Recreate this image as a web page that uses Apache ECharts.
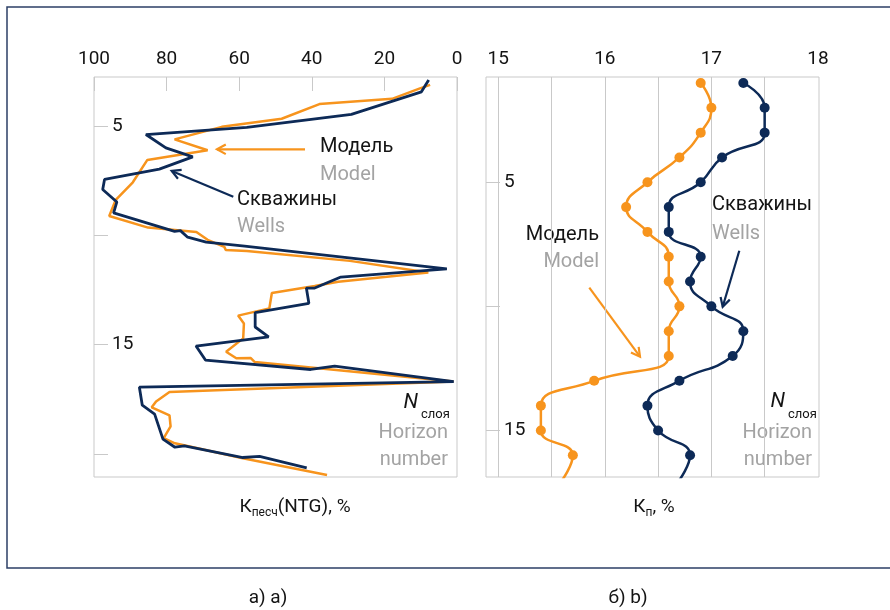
<!DOCTYPE html>
<html>
<head>
<meta charset="utf-8">
<script src="https://cdn.jsdelivr.net/npm/echarts@6/dist/echarts.min.js"></script>
<style>
  html, body { margin: 0; padding: 0; background: #ffffff; }
  #chart { width: 890px; height: 610px; }
</style>
</head>
<body>
<div id="chart"></div>
<script>
// ---- Net-to-gross profile (panel a): value in %, depth in horizon units ----
const ntgWellsValue = [7.8, 9.8, 29.1, 57.9, 85.7, 80.2, 72.8, 82.0, 97.1, 97.6, 93.7, 94.6, 77.8, 76.2, 74.2, 69.1, 58.5, 2.8, 32.0, 39.2, 41.5, 40.8, 55.6, 55.6, 51.9, 71.9, 69.3, 40.3, 33.7, 0.9, 87.5, 86.7, 83.3, 81.0, 77.7, 75.1, 59.0, 54.4, 41.4];
const ntgWellsDepth = [2.91, 3.45, 4.48, 5.07, 5.40, 6.01, 6.42, 6.98, 7.45, 7.91, 8.48, 8.98, 9.82, 9.79, 10.09, 10.31, 10.50, 11.54, 11.91, 12.41, 12.41, 13.11, 13.53, 14.19, 14.64, 15.06, 15.70, 16.13, 15.98, 16.68, 16.94, 17.76, 18.17, 19.31, 19.68, 19.62, 20.15, 20.10, 20.62];
const ntgModelValue = [7.4, 10.2, 17.9, 37.9, 48.3, 64.8, 77.8, 68.7, 85.3, 89.3, 94.0, 95.8, 85.1, 71.8, 68.7, 64.1, 63.7, 57.9, 29.5, 7.9, 32.7, 39.2, 51.0, 51.7, 60.3, 58.7, 58.9, 63.6, 60.8, 56.8, 55.7, 1.0, 79.2, 82.9, 84.1, 79.2, 78.9, 80.8, 77.7, 59.0, 35.8];
const ntgModelDepth = [3.13, 3.29, 3.77, 4.01, 4.68, 5.05, 5.62, 6.12, 6.56, 7.58, 8.38, 9.12, 9.65, 9.85, 10.21, 10.53, 10.67, 10.72, 11.17, 11.70, 12.12, 12.32, 12.64, 13.34, 13.67, 14.03, 14.71, 15.32, 15.62, 15.61, 15.79, 16.68, 17.16, 17.59, 17.86, 18.23, 18.73, 19.27, 19.50, 20.18, 20.95];

// ---- Porosity by horizon (panel b) ----
const horizons = [1, 2, 3, 4, 5, 6, 7, 8, 9, 10, 11, 12, 13, 14, 15, 16, 17];
const porosityModel = [16.9, 17.0, 16.9, 16.7, 16.4, 16.2, 16.4, 16.6, 16.6, 16.7, 16.6, 16.6, 15.9, 15.4, 15.4, 15.7, 15.6];
const porosityWells = [17.3, 17.5, 17.5, 17.1, 16.9, 16.6, 16.6, 16.9, 16.8, 17.0, 17.3, 17.2, 16.7, 16.4, 16.5, 16.8, 16.7];

// ---- Axis ticks ----
const ntgTicks = [0, 20, 40, 60, 80, 100];
const porosityLabels = [15, 16, 17, 18];
const porosityGrid = [15, 15.5, 16, 16.5, 17, 17.5];
const depthTicksA = [5, 10, 15, 20];
const depthLabelsA = [5, 15];
const depthTicksB = [5, 10, 15];
const depthLabelsB = [5, 15];

const ORANGE = '#f7941d';
const NAVY = '#0d2a57';
const GREY_TEXT = '#a3a3a3';
const GRID_GREY = '#c9c9c9';
const INK = '#141414';
const FONT = 'Roboto, "Noto Sans", sans-serif';

const zip = (xs, ys) => xs.map((x, i) => [x, ys[i]]);

const chart = echarts.init(document.getElementById('chart'), null, { renderer: 'canvas' });

// annotation arrow with an open V head at (x2, y2)
function arrow(x1, y1, x2, y2, color) {
  const a = Math.atan2(y2 - y1, x2 - x1);
  const len = 10, spread = 0.5;
  const p1 = [x2 - len * Math.cos(a - spread), y2 - len * Math.sin(a - spread)];
  const p2 = [x2 - len * Math.cos(a + spread), y2 - len * Math.sin(a + spread)];
  return {
    type: 'group',
    children: [
      { type: 'line', shape: { x1, y1, x2, y2 }, style: { stroke: color, lineWidth: 2.2 } },
      { type: 'polyline', shape: { points: [p1, [x2, y2], p2] }, style: { stroke: color, lineWidth: 2.2, fill: null } }
    ]
  };
}

function txt(text, x, y, size, color, align, extra) {
  return {
    type: 'text',
    style: Object.assign({
      text, x, y, fill: color, align: align || 'left', verticalAlign: 'middle',
      fontSize: size, fontFamily: FONT
    }, extra || {})
  };
}

const axisLabelBase = { color: INK, fontSize: 19, fontFamily: FONT };

const option = {
  animation: false,
  backgroundColor: '#ffffff',
  grid: [
    { left: 94, top: 77, width: 363, height: 400, show: true, borderColor: GRID_GREY, borderWidth: 1, backgroundColor: 'transparent', containLabel: false, outerBoundsMode: 'none' },
    { left: 486, top: 77, width: 333, height: 400, show: true, borderColor: GRID_GREY, borderWidth: 1, backgroundColor: 'transparent', containLabel: false, outerBoundsMode: 'none' }
  ],
  xAxis: [
    {
      gridIndex: 0, type: 'value', position: 'top', inverse: true, min: 0, max: 100,
      axisLine: { show: false, onZero: false },
      axisTick: { show: true, inside: true, length: 14, lineStyle: { color: GRID_GREY, width: 1 }, customValues: ntgTicks },
      axisLabel: Object.assign({ margin: 8, customValues: ntgTicks }, axisLabelBase),
      splitLine: { show: false }
    },
    {
      gridIndex: 1, type: 'value', position: 'top', min: 14.885, max: 18.01,
      axisLine: { show: false, onZero: false },
      axisTick: { show: false, customValues: porosityGrid },
      axisLabel: Object.assign({ margin: 8, customValues: porosityLabels }, axisLabelBase),
      splitLine: { show: true, lineStyle: { color: GRID_GREY, width: 1 } }
    }
  ],
  yAxis: [
    {
      gridIndex: 0, type: 'value', position: 'left', inverse: true, min: 2.773, max: 21.04,
      axisLine: { show: false, onZero: false },
      axisTick: { show: true, inside: true, length: 14, lineStyle: { color: GRID_GREY, width: 1 }, customValues: depthTicksA },
      axisLabel: Object.assign({ inside: true, margin: 18, customValues: depthLabelsA }, axisLabelBase),
      splitLine: { show: false }
    },
    {
      gridIndex: 1, type: 'value', position: 'left', inverse: true, min: 0.758, max: 16.876,
      axisLine: { show: false, onZero: false },
      axisTick: { show: true, inside: true, length: 14, lineStyle: { color: GRID_GREY, width: 1 }, customValues: depthTicksB },
      axisLabel: Object.assign({ inside: true, margin: 18, customValues: depthLabelsB }, axisLabelBase),
      splitLine: { show: false }
    }
  ],
  series: [
    {
      name: 'Модель', type: 'line', xAxisIndex: 0, yAxisIndex: 0,
      data: zip(ntgModelValue, ntgModelDepth), showSymbol: false, symbol: 'none',
      lineStyle: { color: ORANGE, width: 2.5 }, clip: true, z: 2
    },
    {
      name: 'Скважины', type: 'line', xAxisIndex: 0, yAxisIndex: 0,
      data: zip(ntgWellsValue, ntgWellsDepth), showSymbol: false, symbol: 'none',
      lineStyle: { color: NAVY, width: 2.8 }, clip: true, z: 3
    },
    {
      name: 'Модель', type: 'line', xAxisIndex: 1, yAxisIndex: 1,
      data: zip(porosityModel, horizons), smooth: 0.5,
      symbol: 'circle', symbolSize: 10, itemStyle: { color: ORANGE },
      lineStyle: { color: ORANGE, width: 2.5 }, clip: true, z: 2
    },
    {
      name: 'Скважины', type: 'line', xAxisIndex: 1, yAxisIndex: 1,
      data: zip(porosityWells, horizons), smooth: 0.5,
      symbol: 'circle', symbolSize: 10, itemStyle: { color: NAVY },
      lineStyle: { color: NAVY, width: 2.5 }, clip: true, z: 3
    }
  ],
  graphic: [
    // outer frame
    { type: 'rect', shape: { x: 7, y: 7, width: 900, height: 561 }, style: { fill: null, stroke: '#2c3f66', lineWidth: 1.5 }, silent: true },

    // panel a annotations
    txt('Модель', 320, 147, 20, INK),
    txt('Model', 320, 175, 20, GREY_TEXT),
    txt('Скважины', 237, 200, 20, INK),
    txt('Wells', 237, 227, 20, GREY_TEXT),
    arrow(305, 149.3, 217, 149.3, ORANGE),
    arrow(233.3, 196.7, 171.7, 171, NAVY),
    txt('N', 418, 403, 21, INK, 'right', { fontStyle: 'italic' }),
    txt('слоя', 421, 415, 13, INK),
    txt('Horizon', 448, 433, 20, GREY_TEXT, 'right'),
    txt('number', 448, 460, 20, GREY_TEXT, 'right'),

    // panel b annotations
    txt('Скважины', 712, 205, 20, INK),
    txt('Wells', 712, 234, 20, GREY_TEXT),
    txt('Модель', 599, 235, 20, INK, 'right'),
    txt('Model', 599, 262, 20, GREY_TEXT, 'right'),
    arrow(589.3, 287.7, 640, 356.7, ORANGE),
    arrow(739.3, 250.7, 722.7, 306.7, NAVY),
    txt('N', 785, 402, 21, INK, 'right', { fontStyle: 'italic' }),
    txt('слоя', 788, 415, 13, INK),
    txt('Horizon', 812, 433, 20, GREY_TEXT, 'right'),
    txt('number', 812, 460, 20, GREY_TEXT, 'right'),

    // axis titles
    {
      type: 'text',
      style: {
        text: '{k|К}{s|песч}{k|(NTG), %}', x: 295, y: 507, align: 'center', verticalAlign: 'middle',
        rich: {
          k: { fontSize: 19, fontFamily: FONT, fill: INK },
          s: { fontSize: 12, fontFamily: FONT, fill: INK, padding: [12, 0, 0, 0] }
        }
      }
    },
    {
      type: 'text',
      style: {
        text: '{k|К}{s|п}{k|, %}', x: 654, y: 507, align: 'center', verticalAlign: 'middle',
        rich: {
          k: { fontSize: 19, fontFamily: FONT, fill: INK },
          s: { fontSize: 12, fontFamily: FONT, fill: INK, padding: [12, 0, 0, 0] }
        }
      }
    },
    txt('а) a)', 268, 598, 19, INK, 'center'),
    txt('б) b)', 628, 598, 19, INK, 'center')
  ]
};

chart.setOption(option);
</script>
</body>
</html>
